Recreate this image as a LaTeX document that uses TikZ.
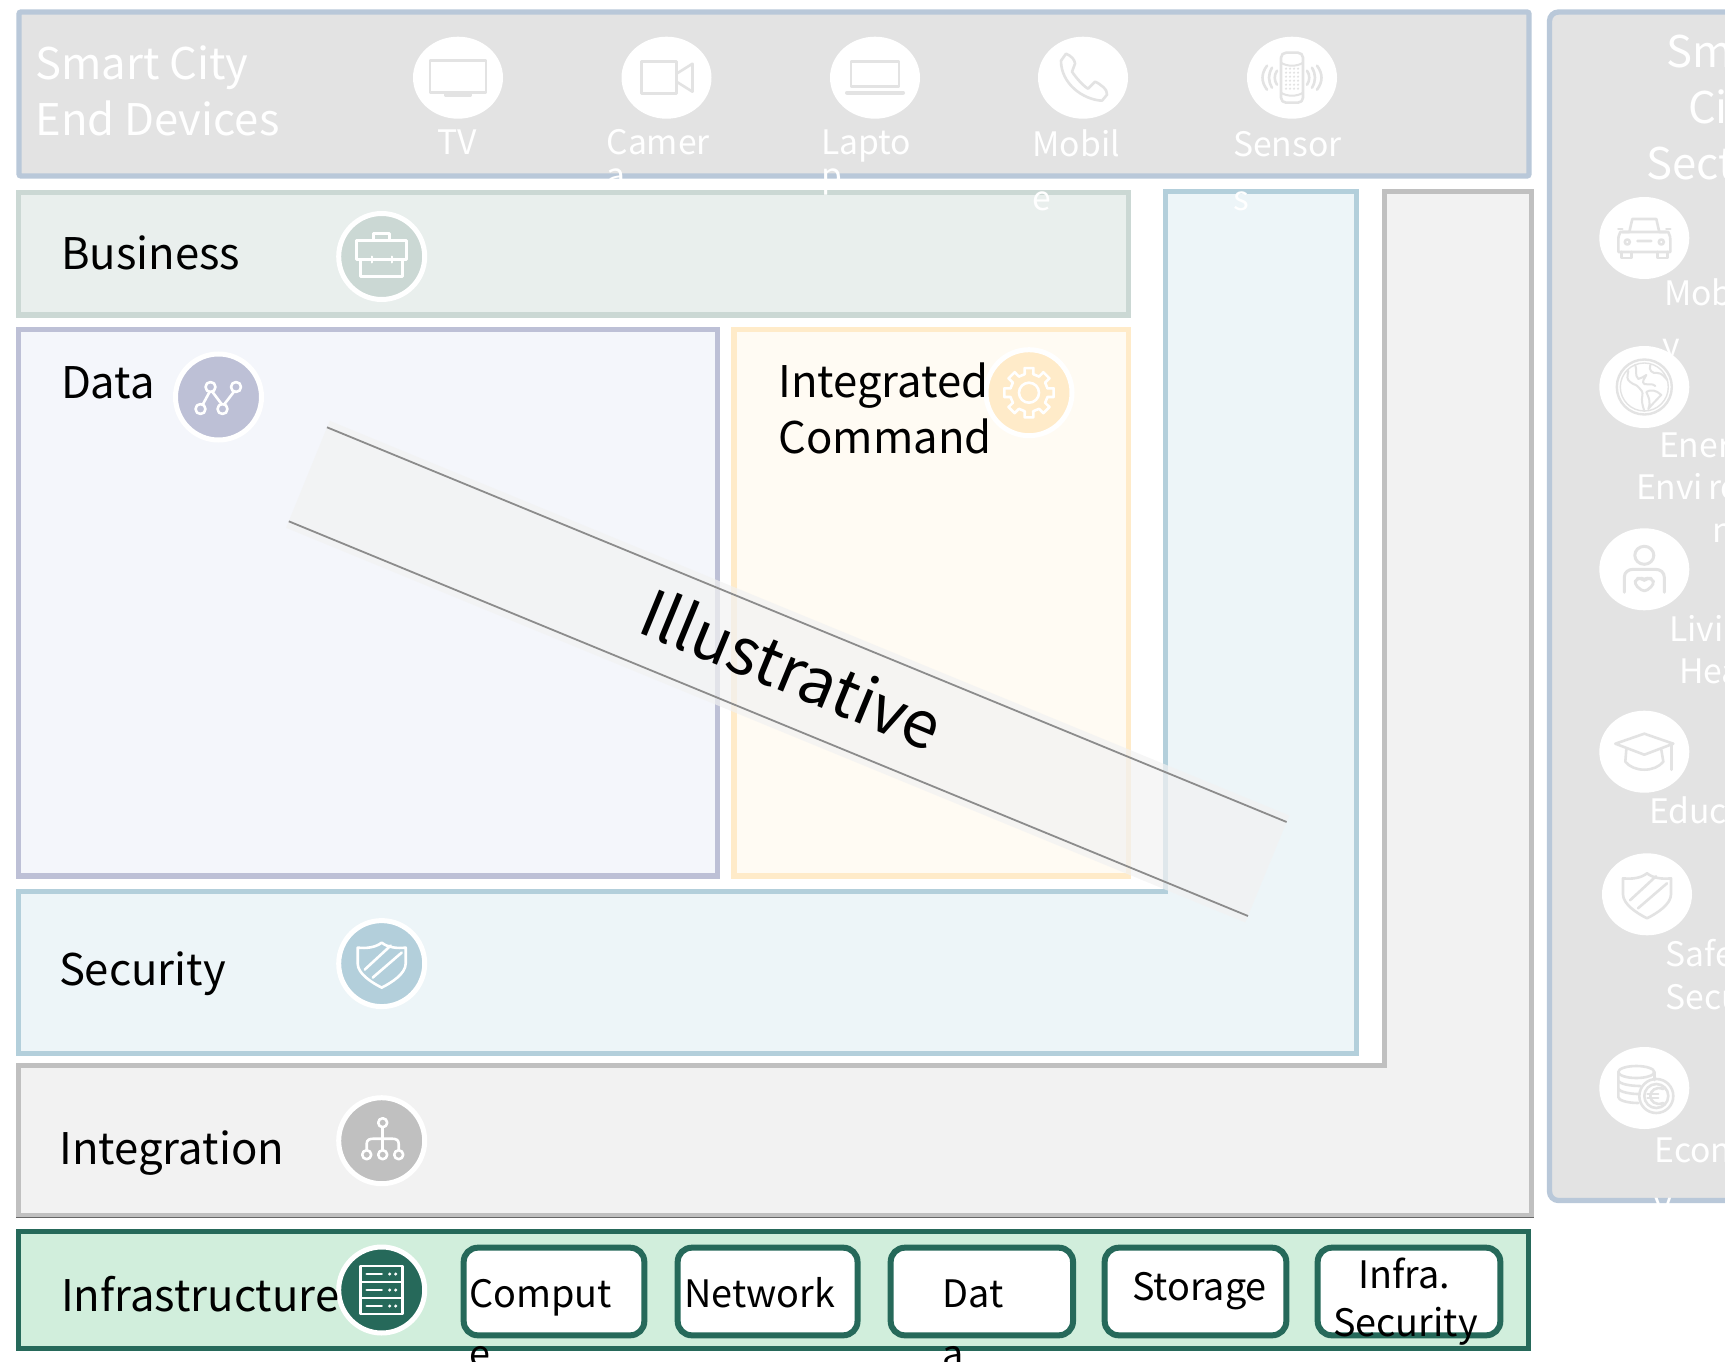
\documentclass[tikz,border=0pt]{standalone}
\usepackage{fontspec}
\setmainfont{Noto Sans CJK SC}
\usetikzlibrary{shapes.geometric}
\definecolor{edfill}{HTML}{E3E3E3}\definecolor{edline}{HTML}{B9C8D9}
\definecolor{bufill}{HTML}{E9EFED}\definecolor{buline}{HTML}{CBD8D4}
\definecolor{dafill}{HTML}{F4F6FB}\definecolor{daline}{HTML}{BDC0D6}
\definecolor{icfill}{HTML}{FFFBF3}\definecolor{icline}{HTML}{FFEBC9}
\definecolor{sefill}{HTML}{EDF5F8}\definecolor{seline}{HTML}{B3CFDB}
\definecolor{infill}{HTML}{F2F2F2}\definecolor{inline}{HTML}{C0C0C0}
\definecolor{irfill}{HTML}{D1EEDC}\definecolor{irline}{HTML}{26695A}
\newcommand{\fbig}{\fontsize{43.6}{50}\selectfont}
\newcommand{\fsmall}{\fontsize{33.7}{40}\selectfont}
\tikzset{
  x=1pt,y=-1pt,
  panel/.style={line width=5.3pt,miter limit=10},
  lab/.style={anchor=base west,inner sep=0,outer sep=0,font=\fbig,text=black},
  wlab/.style={anchor=base west,inner sep=0,outer sep=0,font=\fbig,text=white},
  slab/.style={anchor=base west,inner sep=0,outer sep=0,font=\fsmall,text=white},
  ilab/.style={anchor=base west,inner sep=0,outer sep=0,font=\fontsize{37.8}{46}\selectfont,text=black},
  disc/.style={ellipse,fill=white,minimum width=90pt,minimum height=82pt,inner sep=0,outer sep=0},
  ring/.style={ellipse,draw=white,line width=5pt,fill=#1,minimum width=86pt,minimum height=86pt,inner sep=0,outer sep=0},
  ibox/.style={draw=irline,fill=white,line width=6pt,rounded corners=14pt},
  ic/.style={line width=2.6pt,line join=round,line cap=round},
  icw/.style={color=white},
  icg/.style={color=edfill},
  tvicon/.pic={\draw[ic] (-28,-17) rectangle (28,15);\draw[ic] (-13,15)--(-13,18)--(13,18)--(13,15);},
  camicon/.pic={\draw[ic] (-25,-16) rectangle (10,16);\draw[ic] (10,-4)--(26,-14)--(26,14)--(10,4);},
  lapicon/.pic={\draw[ic] (-24,9)--(-24,-16)--(24,-16)--(24,9)--cycle;\draw[ic,line width=4pt] (-28,15)--(28,15);},
  phoneicon/.pic={\draw[ic] (-22,-17)--(-17,-24) .. controls (-12,-22) and (-8,-18) .. (-8,-14)--(-11,-6) .. controls (-7,0) and (0,8) .. (5,11)--(12,4) .. controls (17,6) and (25,12) .. (24,17)--(19,23) .. controls (0,22) and (-22,6) .. (-22,-17)--cycle;},
  sensicon/.pic={
    \draw[ic,rounded corners=5pt] (-11,-25) rectangle (11,25);
    \draw[ic,line width=2pt] (-11,-15) .. controls (-5,-11) and (5,-11) .. (11,-15);
    \draw[ic,line width=2pt] (-11,15) .. controls (-5,19) and (5,19) .. (11,15);
    \foreach \yy in {-9,-5,-1,3,7,11}\foreach \xx in {-6,-2,2,6}{\fill (\xx,\yy) circle (1.2);}
    \draw[ic] (-15,-7) .. controls (-18,-3) and (-18,3) .. (-15,7);
    \draw[ic] (15,-7) .. controls (18,-3) and (18,3) .. (15,7);
    \draw[ic] (-25,-12) .. controls (-31,-4) and (-31,4) .. (-25,12);
    \draw[ic] (25,-12) .. controls (31,-4) and (31,4) .. (25,12);
    \draw[ic] (-20,-10) .. controls (-24,-3) and (-24,3) .. (-20,10);
    \draw[ic] (20,-10) .. controls (24,-3) and (24,3) .. (20,10);},
  caseicon/.pic={
    \draw[ic] (-25,-16) rectangle (25,3);\draw[ic] (-21,3) rectangle (21,20);
    \draw[ic] (-8,-16)--(-8,-23)--(8,-23)--(8,-16);
    \draw[ic,line width=2pt] (-10,0)--(-10,6) (10,0)--(10,6);},
  dataicon/.pic={
    \draw[ic] (-16,8)--(-9,-5) (-6,-5)--(3,7) (6,7)--(16,-6);
    \draw[ic] (-18,12) circle (5) (-8,-10) circle (5) (4,12) circle (5) (17.5,-10) circle (5);},
  gearicon/.pic={
    \draw[ic] (0,0) circle (10);
    \draw[ic] (-13:19) \foreach \a in {0,45,...,315}{ -- (\a-13:19) -- (\a-10:25) -- (\a+10:25) -- (\a+13:19) } -- cycle;},
  shieldicon/.pic={
    \draw[ic] (0,-21) .. controls (-6,-16) and (-16,-15) .. (-24,-16)--(-24,0) .. controls (-24,10) and (-10,19) .. (0,24) .. controls (10,19) and (24,10) .. (24,0)--(24,-16) .. controls (16,-15) and (6,-16) .. (0,-21)--cycle;
    \draw[ic] (-17,6)--(9,-18) (-9,14)--(20,-11);},
  intgicon/.pic={
    \draw[ic] (1,-18) circle (4.5) (-15,14) circle (4.5) (1,14) circle (4.5) (17,14) circle (4.5);
    \draw[ic] (1,-13)--(1,9);
    \draw[ic] (-15,9)--(-15,3) .. controls (-15,-1) and (-12,-2) .. (-8,-2)--(10,-2) .. controls (14,-2) and (17,-1) .. (17,3)--(17,9);},
  servicon/.pic={
    \draw[ic] (-21,-24) rectangle (21,24);\draw[ic] (-21,-8)--(21,-8) (-21,8)--(21,8);
    \foreach \yy in {-16,0,16}{\draw[ic] (-15,\yy)--(0,\yy);\fill (8,\yy) circle (1.7) (14,\yy) circle (1.7);}},
  caricon/.pic={
    \draw[ic] (-22,-6)--(-15,-6)--(-12,-19)--(12,-19)--(15,-6)--(22,-6);
    \draw[ic] (-24,-6) .. controls (-26,-3) and (-26,0) .. (-26,4)--(-26,14)--(26,14)--(26,4) .. controls (26,0) and (26,-3) .. (24,-6)--cycle;
    \draw[ic] (-14,-6)--(14,-6);
    \draw[ic] (-23,14)--(-23,20)--(-13,20)--(-13,14) (23,14)--(23,20)--(13,20)--(13,14);
    \draw[ic] (-17,4) circle (2.5) (17,4) circle (2.5) (-7,3)--(7,3);
    \draw[ic] (-26,-9)--(-22,-9) (26,-9)--(22,-9);},
  globeicon/.pic={
    \draw[ic,line width=2.4pt] (0,0) circle (27.5);
    \draw[ic,line width=1.4pt] (0,0) circle (24);
    \draw[ic,line width=2pt] (-16,-16) .. controls (-17,-10) and (-18,-8) .. (-14,-5) .. controls (-11,-2) and (-8,-3) .. (-5,1) .. controls (-3,3) and (-1,5) .. (-2,9) .. controls (-3,13) and (-2,18) .. (0,24);
    \draw[ic,line width=2pt] (-9,-22) .. controls (-7,-17) and (-10,-12) .. (-6,-8) .. controls (-3,-8) and (-1,-11) .. (2,-12) .. controls (0,-8) and (-3,-5) .. (0,-3) .. controls (4,-2) and (8,-4) .. (11,-1);
    \draw[ic,line width=2pt] (6,-22) .. controls (4,-17) and (8,-13) .. (13,-14) .. controls (18,-14) and (20,-10) .. (23,-7);
    \draw[ic,line width=2pt] (2,5) .. controls (6,2) and (12,3) .. (17,8) .. controls (13,12) and (8,17) .. (4,22) .. controls (7,14) and (4,10) .. (2,5);},
  livicon/.pic={
    \draw[ic,line width=3pt] (0,-14) ellipse (9.5 and 9);
    \draw[ic,line width=3pt] (-20,23)--(-20,8) .. controls (-20,3) and (-16,0) .. (-11,0)--(11,0) .. controls (16,0) and (20,3) .. (20,8)--(20,23);
    \draw[ic,line width=2.8pt,rounded corners=4pt] (0,23)--(-10,15)--(-8,9)--(-3,9)--(0,11)--(3,9)--(8,9)--(10,15)--cycle;},
  capicon/.pic={
    \draw[ic] (0,-18)--(-29,-8)--(0,3)--(29,-8)--cycle;
    \draw[ic] (-18,-2)--(-19,10) .. controls (-15,15) and (-8,18) .. (0,18) .. controls (8,18) and (15,15) .. (19,10)--(17,-2);
    \draw[ic] (27,-8)--(27,18);},
  coinicon/.pic={
    \draw[ic] (-8,-16) ellipse (18 and 6);
    \draw[ic] (-26,-16)--(-26,9) .. controls (-26,12) and (-18,15) .. (-6,15);
    \draw[ic] (10,-16)--(10,-8);
    \draw[ic] (-26,-7) .. controls (-24,-4) and (-14,-2) .. (-4,-2) (-26,1) .. controls (-24,4) and (-14,6) .. (-6,6);
    \draw[ic] (12,8) circle (17) (12,8) circle (12);
    \draw[ic] (19,1) .. controls (11,-2) and (6,3) .. (6,8) .. controls (6,13) and (11,18) .. (19,15);
    \draw[ic,line width=2pt] (3,6)--(14,6) (3,10)--(14,10);},
}
\begin{document}
\begin{tikzpicture}
\useasboundingbox (0,0) rectangle (1725,1362);
\clip (0,0) rectangle (1725,1362);
% panels
\draw[panel,draw=inline,fill=infill] (1384.5,191.5)--(1531.5,191.5)--(1531.5,1215.5)--(18.5,1215.5)--(18.5,1065.5)--(1384.5,1065.5)--cycle;
\draw[line width=1.5pt,draw=black!60] (16,1217.6)--(1534,1217.6);
\draw[panel,draw=seline,fill=sefill] (1165.5,191.5)--(1356.5,191.5)--(1356.5,1053.5)--(18.5,1053.5)--(18.5,891.5)--(1165.5,891.5)--cycle;
\draw[panel,draw=edline,fill=edfill,rounded corners=2pt] (19,12) rectangle (1529,176);
\draw[panel,draw=edline,fill=edfill,rounded corners=9pt] (1549.5,12) rectangle (1760,1200.5);
\draw[panel,draw=buline,fill=bufill] (18.5,192.5) rectangle (1128.5,315);
\draw[panel,draw=daline,fill=dafill] (18.5,329.5) rectangle (717.5,876);
\draw[panel,draw=icline,fill=icfill] (734,329.5) rectangle (1128.5,876);
\draw[panel,draw=irline,fill=irfill] (18.5,1231.5) rectangle (1528.5,1348.5);
% inner boxes
\draw[ibox] (463.7,1247.7) rectangle (644.3,1335.3);
\draw[ibox] (677.7,1247.7) rectangle (857.5,1335.3);
\draw[ibox] (890.7,1247.7) rectangle (1073,1335.3);
\draw[ibox] (1104.7,1247.7) rectangle (1286.3,1335.3);
\draw[ibox] (1317.7,1247.7) rectangle (1500.3,1335.3);
% device discs
\node[disc] (dtv) at (458,77.7) {};
\node[disc] (dcam) at (666.5,77.7) {};
\node[disc] (dlap) at (875,77.7) {};
\node[disc] (dmob) at (1083,77.7) {};
\node[disc] (dsen) at (1292,77.7) {};
\pic[icg] at (dtv) {tvicon};
\pic[icg] at (dcam) {camicon};
\pic[icg] at (dlap) {lapicon};
\pic[icg] at (dmob) {phoneicon};
\pic[icg] at (dsen) {sensicon};
% sector discs
\node[disc] (scar) at (1644.3,238) {};
\node[disc] (sglo) at (1644.3,387) {};
\node[disc] (sliv) at (1644.3,569.3) {};
\node[disc] (sedu) at (1644.3,751.7) {};
\node[disc] (ssaf) at (1647,894.3) {};
\node[disc] (seco) at (1644.3,1088) {};
\pic[icg] at (scar) {caricon};
\pic[icg] at (sglo) {globeicon};
\pic[icg] at (sliv) {livicon};
\pic[icg] at (sedu) {capicon};
\pic[icg] at (ssaf) {shieldicon};
\pic[icg] at (seco) {coinicon};
% layer icons
\node[ring=buline] (rbus) at (381.7,256.5) {};
\node[ring=daline] (rdat) at (218.5,397) {};
\node[ring=icline] (rcmd) at (1029,392.7) {};
\node[ring=seline] (rsec) at (381.7,963.6) {};
\node[ring=inline] (rint) at (381.7,1140.7) {};
\node[ring=irline] (rinf) at (381.7,1290) {};
\pic[icw] at (rbus) {caseicon};
\pic[icw] at (rdat) {dataicon};
\pic[icw] at (rcmd) {gearicon};
\pic[icw] at (rsec) {shieldicon};
\pic[icw] at (rint) {intgicon};
\pic[icw] at (rinf) {servicon};
% banner
\coordinate (bu1) at (327,427.3);
\coordinate (bu2) at (1286.6,822);
\coordinate (bl1) at (288.8,521.3);
\coordinate (bl2) at (1248,916);
\fill[color=infill,opacity=.7] (329.7,420.8)--(1289.3,815.5)--(1245.3,922.5)--(286.1,527.8)--cycle;
\draw[line width=1.8pt,draw=black!45] (bu1)--(bu2);
\draw[line width=1.8pt,draw=black!45] (bl1)--(bl2);
\node[rotate=-22.4,font=\fontsize{64.7}{70}\selectfont,inner sep=0] (illus) at (792,668.5) {Illustrative};
% black labels
\node[lab] (tbus) at (61,269) {Business};
\node[lab] (tdat) at (61,398) {Data};
\node[lab] (tin1) at (778.5,397.7) {Integrated};
\node[lab] (tin2) at (778.5,453.7) {Command};
\node[lab] (tsec) at (59,985.6) {Security};
\node[lab] (tint) at (59.5,1164) {Integration};
\node[lab] (tinf) at (61,1311.7) {Infrastructure};
\node[ilab] (bcomp) at (469,1307.7) {Comput};
\node[ilab] (bcomp2) at (469,1367) {e};
\node[ilab] (bnet) at (684.5,1307.7) {Network};
\node[ilab] (bdat) at (942.5,1307.7) {Dat};
\node[ilab] (bdat2) at (942.5,1367) {a};
\node[ilab] (bsto) at (1132,1300) {Storage};
\node[ilab] (binf) at (1358,1288) {Infra.};
\node[ilab] (bisc) at (1333,1336) {Security};
% white labels
\node[wlab] (ted1) at (35.5,79.3) {Smart City};
\node[wlab] (ted2) at (35.5,136) {End Devices};
\node[slab] (ltv) at (437,155) {TV};
\node[slab] (lcam) at (606.5,155) {Camer};
\node[slab] (lcam2) at (606.5,188) {a};
\node[slab] (llap) at (821,155) {Lapto};
\node[slab] (llap2) at (821,188) {p};
\node[slab] (lmob) at (1032.5,157) {Mobil};
\node[slab] (lmob2) at (1032.5,210) {e};
\node[slab] (lsen) at (1233,157) {Sensor};
\node[slab] (lsen2) at (1233,210) {s};
\node[wlab] (ts1) at (1666.5,67.2) {Smart};
\node[wlab] (ts2) at (1688,123.2) {City};
\node[wlab] (ts3) at (1646.5,179.5) {Sectors};
\node[slab] (lm1) at (1664,305) {Mobilit};
\node[slab] (lm2) at (1662,357) {y};
\node[slab] (le1) at (1659,457.7) {Energy};
\node[slab] (le2) at (1636,499.3) {Envi\kern5pt ronme};
\node[slab] (le3) at (1712,542.7) {nt};
\node[slab] (ll1) at (1669,641) {Living};
\node[slab] (ll2) at (1679,683.7) {Health};
\node[slab] (led) at (1649,823.7) {Education};
\node[slab] (lsa) at (1665.5,966) {Safety};
\node[slab] (lsc) at (1665.5,1009) {Security};
\node[slab] (lec) at (1654.5,1162.7) {Econom};
\node[slab] (lec2) at (1654,1216) {y};
\end{tikzpicture}
\end{document}
